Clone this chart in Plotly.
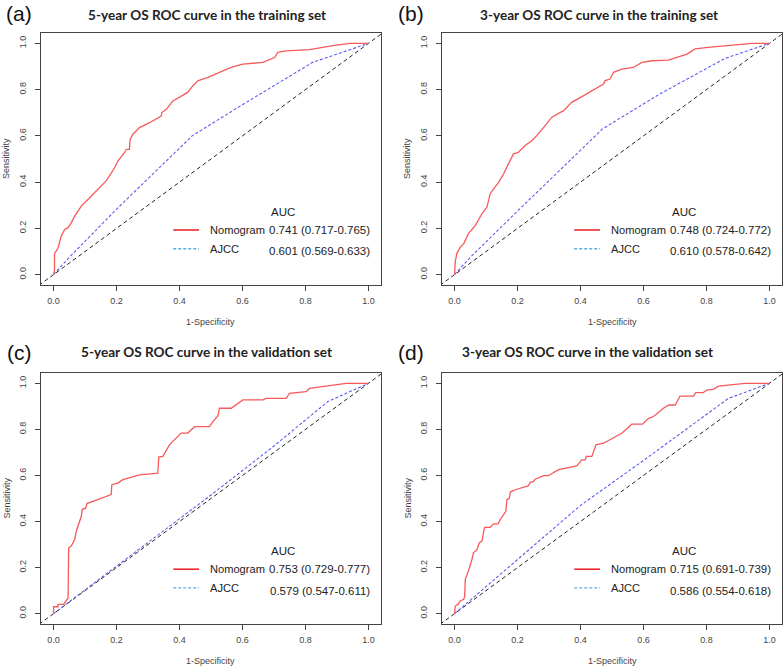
import plotly.graph_objects as go

# ---------------- data ----------------
panel_labels = ["(a)", "(b)", "(c)", "(d)"]
panel_titles = [
    "5-year OS ROC curve in the training set",
    "3-year OS ROC curve in the training set",
    "5-year OS ROC curve in the validation set",
    "3-year OS ROC curve in the validation set",
]
series_names = ["Nomogram", "AJCC"]
auc_text = [
    ["0.741 (0.717-0.765)", "0.601 (0.569-0.633)"],
    ["0.748 (0.724-0.772)", "0.610 (0.578-0.642)"],
    ["0.753 (0.729-0.777)", "0.579 (0.547-0.611)"],
    ["0.715 (0.691-0.739)", "0.586 (0.554-0.618)"],
]

# Panel (a)
nomo_a_x = [0, 0.003, 0.003, 0.014, 0.024, 0.035, 0.045, 0.056, 0.067, 0.088, 0.109, 0.146, 0.167,
            0.194, 0.204, 0.225, 0.231, 0.241, 0.243, 0.252, 0.273, 0.305, 0.342, 0.344, 0.358,
            0.379, 0.426, 0.442, 0.458, 0.490, 0.516, 0.538, 0.564, 0.601, 0.665, 0.702, 0.712,
            0.739, 0.813, 0.887, 0.940, 1.0]
nomo_a_y = [0, 0.02, 0.09, 0.115, 0.166, 0.195, 0.202, 0.224, 0.253, 0.296, 0.325, 0.376, 0.405,
            0.462, 0.491, 0.527, 0.542, 0.542, 0.585, 0.607, 0.636, 0.657, 0.686, 0.701, 0.715,
            0.751, 0.788, 0.816, 0.838, 0.853, 0.867, 0.882, 0.896, 0.910, 0.918, 0.939, 0.961,
            0.968, 0.973, 0.990, 1.0, 1.0]
ajcc_a_x = [0, 0.05, 0.2, 0.44, 0.6, 0.823, 1.0]
ajcc_a_y = [0, 0.075, 0.283, 0.60, 0.735, 0.918, 1.0]

# Panel (b)
nomo_b_x = [0, 0.002, 0.007, 0.018, 0.029, 0.044, 0.066, 0.087, 0.103, 0.108, 0.113, 0.140, 0.156,
            0.171, 0.187, 0.203, 0.224, 0.246, 0.261, 0.283, 0.309, 0.346, 0.372, 0.410, 0.436,
            0.473, 0.478, 0.494, 0.505, 0.531, 0.568, 0.595, 0.626, 0.679, 0.738, 0.764, 0.806,
            0.859, 0.944, 1.0]
nomo_b_y = [0, 0.055, 0.091, 0.119, 0.134, 0.177, 0.213, 0.263, 0.292, 0.328, 0.350, 0.400, 0.436,
            0.479, 0.522, 0.529, 0.558, 0.580, 0.601, 0.637, 0.681, 0.709, 0.745, 0.774, 0.796,
            0.824, 0.839, 0.846, 0.875, 0.889, 0.896, 0.918, 0.925, 0.928, 0.954, 0.976, 0.983,
            0.990, 1.0, 1.0]
ajcc_b_x = [0, 0.05, 0.2, 0.47, 0.65, 0.859, 1.0]
ajcc_b_y = [0, 0.075, 0.275, 0.63, 0.78, 0.935, 1.0]

# Panel (c)
nomo_c_x = [0, 0, 0.014, 0.014, 0.032, 0.046, 0.048, 0.056, 0.067, 0.072, 0.088, 0.091, 0.102,
            0.106, 0.183, 0.185, 0.204, 0.220, 0.273, 0.331, 0.334, 0.347, 0.353, 0.368, 0.405,
            0.426, 0.448, 0.495, 0.506, 0.522, 0.527, 0.564, 0.601, 0.665, 0.675, 0.739, 0.749,
            0.802, 0.813, 0.887, 0.929, 1.0]
nomo_c_y = [0, 0.03, 0.03, 0.04, 0.04, 0.069, 0.286, 0.293, 0.322, 0.358, 0.423, 0.452, 0.459,
            0.478, 0.517, 0.560, 0.567, 0.582, 0.603, 0.610, 0.680, 0.683, 0.697, 0.733, 0.784,
            0.784, 0.812, 0.812, 0.834, 0.859, 0.892, 0.892, 0.928, 0.928, 0.935, 0.935, 0.957,
            0.964, 0.978, 0.993, 1.0, 1.0]
ajcc_c_x = [0, 0.1, 0.3, 0.5, 0.7, 0.871, 1.0]
ajcc_c_y = [0, 0.103, 0.308, 0.515, 0.728, 0.921, 1.0]

# Panel (d)
nomo_d_x = [0, 0.002, 0.011, 0.018, 0.029, 0.032, 0.034, 0.044, 0.055, 0.060, 0.071, 0.078, 0.087,
            0.092, 0.095, 0.113, 0.124, 0.138, 0.145, 0.163, 0.166, 0.174, 0.177, 0.193, 0.235,
            0.240, 0.251, 0.256, 0.283, 0.298, 0.330, 0.388, 0.404, 0.415, 0.418, 0.436, 0.449,
            0.473, 0.531, 0.554, 0.563, 0.597, 0.616, 0.632, 0.663, 0.681, 0.701, 0.716, 0.759,
            0.766, 0.790, 0.801, 0.822, 0.838, 0.891, 0.923, 1.0]
nomo_d_y = [0, 0.033, 0.040, 0.055, 0.062, 0.076, 0.149, 0.185, 0.235, 0.264, 0.278, 0.307, 0.315,
            0.365, 0.375, 0.375, 0.390, 0.390, 0.408, 0.444, 0.495, 0.502, 0.528, 0.538, 0.556,
            0.570, 0.574, 0.584, 0.599, 0.599, 0.625, 0.642, 0.668, 0.668, 0.683, 0.683, 0.733,
            0.740, 0.783, 0.812, 0.823, 0.823, 0.848, 0.856, 0.892, 0.906, 0.906, 0.945, 0.945,
            0.960, 0.960, 0.971, 0.974, 0.988, 0.996, 1.0, 1.0]
ajcc_d_x = [0, 0.2, 0.4, 0.6, 0.87, 1.0]
ajcc_d_y = [0, 0.235, 0.47, 0.665, 0.935, 1.0]

nomo_x = [nomo_a_x, nomo_b_x, nomo_c_x, nomo_d_x]
nomo_y = [nomo_a_y, nomo_b_y, nomo_c_y, nomo_d_y]
ajcc_x = [ajcc_a_x, ajcc_b_x, ajcc_c_x, ajcc_d_x]
ajcc_y = [ajcc_a_y, ajcc_b_y, ajcc_c_y, ajcc_d_y]
diag = [-0.1, 1.1]
tick_vals = [0.0, 0.2, 0.4, 0.6, 0.8, 1.0]
tick_text = ["0.0", "0.2", "0.4", "0.6", "0.8", "1.0"]

# ---------------- layout geometry (pixels) ----------------
W, H = 784, 667
boxes = [  # left, right, top, bottom in pixels
    (41, 381, 33, 285),
    (442, 782, 33, 285),
    (41, 381, 373, 624),
    (442, 782, 373, 624),
]
title_cx = [207, 599, 207, 587]
title_y = [15, 15, 352, 352]
label_pos = [(19, 14), (411, 14), (19, 352), (411, 352)]
ylab_x = [6, 407, 6, 407]
xlab_y = [322, 322, 661, 661]

RED = "#F65A5A"
BLUE = "#5C5CF2"
LEG_RED = "#EC2A2E"
LEG_BLUE = "#5AAEE4"
FONT = "Liberation Sans, Arial, sans-serif"

fig = go.Figure()
annotations = []
shapes = []

for i in range(4):
    n = "" if i == 0 else str(i + 1)
    xa, ya = "x" + n, "y" + n
    fig.add_trace(go.Scatter(x=diag, y=diag, mode="lines", xaxis=xa, yaxis=ya,
                             line=dict(color="#222222", width=1, dash="4px,3px"),
                             showlegend=False, hoverinfo="skip"))
    fig.add_trace(go.Scatter(x=ajcc_x[i], y=ajcc_y[i], mode="lines", xaxis=xa, yaxis=ya,
                             line=dict(color=BLUE, width=1.1, dash="3px,2px"),
                             name=series_names[1], showlegend=False))
    fig.add_trace(go.Scatter(x=nomo_x[i], y=nomo_y[i], mode="lines", xaxis=xa, yaxis=ya,
                             line=dict(color=RED, width=1.3),
                             name=series_names[0], showlegend=False))

    l, r, t, b = boxes[i]
    axis_common = dict(range=[-0.04, 1.04], showgrid=False, zeroline=False, showline=True,
                       mirror=True, linecolor="#444444", linewidth=1, ticks="outside",
                       ticklen=5, tickcolor="#444444", tickvals=tick_vals, ticktext=tick_text,
                       tickfont=dict(family=FONT, size=9, color="#444444"), fixedrange=True)
    xkey = "xaxis" + n
    ykey = "yaxis" + n
    fig.layout[xkey] = dict(axis_common, domain=[l / W, r / W], anchor=ya, ticklabelstandoff=2)
    ydict = dict(axis_common, domain=[1 - b / H, 1 - t / H], anchor=xa, tickangle=-90,
                 ticklabelstandoff=5)
    ydict["range"] = [-0.045, 1.045]
    fig.layout[ykey] = ydict

    # titles / labels
    annotations.append(dict(text="<b>" + panel_titles[i] + "</b>", x=title_cx[i] / W,
                            y=1 - title_y[i] / H, xref="paper", yref="paper", showarrow=False,
                            xanchor="center", yanchor="middle",
                            font=dict(family="Lato, Open Sans, sans-serif", size=13.6,
                                      color="#222222")))
    annotations.append(dict(text=panel_labels[i], x=label_pos[i][0] / W, y=1 - label_pos[i][1] / H,
                            xref="paper", yref="paper", showarrow=False, xanchor="center",
                            yanchor="middle", font=dict(family=FONT, size=21, color="#111111")))
    annotations.append(dict(text="Sensitivity", x=ylab_x[i] / W, y=1 - ((t + b) / 2) / H,
                            xref="paper", yref="paper", showarrow=False, textangle=-90,
                            xanchor="center", yanchor="middle",
                            font=dict(family=FONT, size=9, color="#444444")))
    annotations.append(dict(text="1-Specificity", x=((l + r) / 2) / W, y=1 - xlab_y[i] / H,
                            xref="paper", yref="paper", showarrow=False,
                            xanchor="center", yanchor="middle",
                            font=dict(family=FONT, size=9, color="#444444")))

    # legend block (data coordinates of each panel)
    name_font = dict(family=FONT, size=11.1, color="#222222")
    val_font = dict(family=FONT, size=11.5, color="#222222")
    annotations.append(dict(text="AUC", x=0.73, y=0.272, xref=xa, yref=ya, showarrow=False,
                            xanchor="center", yanchor="middle", font=val_font))
    row_y = [0.193, 0.112]
    for k in range(2):
        annotations.append(dict(text=series_names[k], x=0.49, y=row_y[k], xref=xa, yref=ya,
                                showarrow=False, xanchor="left", yanchor="middle", font=name_font))
        annotations.append(dict(text=auc_text[i][k], x=1.012, y=row_y[k] - (0.012 if k == 1 else 0),
                                xref=xa, yref=ya, showarrow=False, xanchor="right",
                                yanchor="middle", font=val_font))
    shapes.append(dict(type="line", xref=xa, yref=ya, x0=0.38, x1=0.462, y0=row_y[0], y1=row_y[0],
                       line=dict(color=LEG_RED, width=1.6)))
    shapes.append(dict(type="line", xref=xa, yref=ya, x0=0.38, x1=0.462, y0=row_y[1], y1=row_y[1],
                       line=dict(color=LEG_BLUE, width=1.4, dash="3px,2px")))

fig.update_layout(width=W, height=H, margin=dict(l=0, r=0, t=0, b=0),
                  paper_bgcolor="white", plot_bgcolor="white",
                  annotations=annotations, shapes=shapes, showlegend=False)

fig.write_html("out.html", config={"displayModeBar": False},
               post_script="document.body.style.margin='0';document.body.style.overflow='hidden';")
